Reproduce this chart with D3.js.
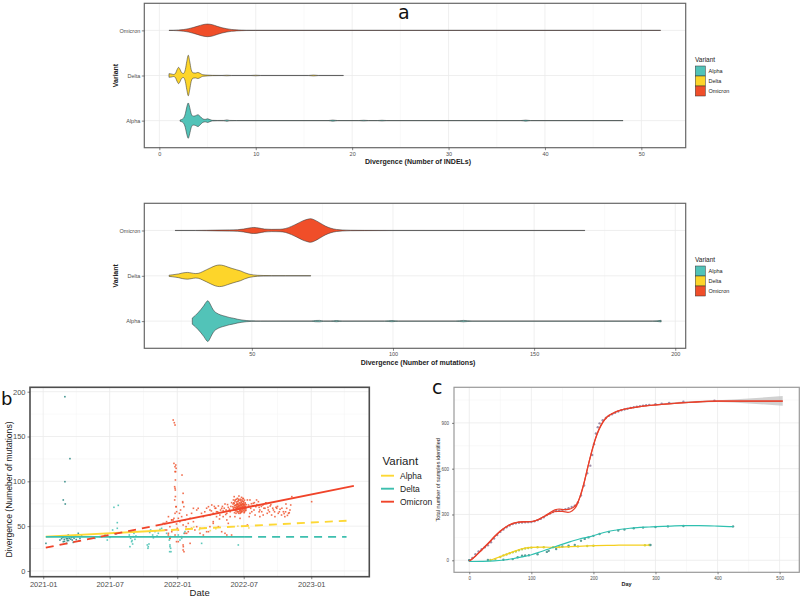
<!DOCTYPE html>
<html><head><meta charset="utf-8">
<script src="https://cdn.jsdelivr.net/npm/d3@7"></script>
<style>body{margin:0;background:#fff}svg{display:block}</style>
</head><body>
<svg id="chart" width="800" height="602"></svg>
<script>
// ---------------- DATA ----------------
const variants = ["Alpha", "Delta", "Omicron"];
const violinOrder = ["Omicron", "Delta", "Alpha"];

// Violin density profiles [value, relative half-width] (panel a, INDELs)
const indelAlpha = [[2.15,0.03],[2.5,0.12],[2.7,0.35],[2.85,0.68],[3,0.87],[3.15,0.65],[3.3,0.35],[3.5,0.22],[3.75,0.24],[4,0.29],[4.25,0.2],[4.5,0.09],[4.75,0.06],[5,0.09],[5.25,0.05],[5.5,0.015],[6,0.008],[6.7,0.01],[7,0.035],[7.3,0.01],[8,0.004],[17.5,0.004],[18,0.028],[18.5,0.004],[20.7,0.004],[21.2,0.018],[21.7,0.004],[22.6,0.004],[23.1,0.018],[23.6,0.004],[37.5,0.004],[38,0.025],[38.5,0.004],[48.1,0.004]];
const indelDelta = [[1.0,0.09],[1.2,0.08],[1.5,0.05],[1.7,0.13],[1.85,0.3],[2,0.4],[2.15,0.3],[2.3,0.15],[2.5,0.1],[2.7,0.3],[2.85,0.7],[3,1.0],[3.15,0.7],[3.3,0.3],[3.5,0.13],[3.75,0.12],[4,0.15],[4.25,0.1],[4.5,0.04],[5,0.02],[5.5,0.008],[6.5,0.004],[7,0.015],[7.5,0.004],[9.5,0.004],[10,0.015],[10.5,0.004],[15.5,0.004],[16,0.022],[16.5,0.004],[19.1,0.004]];
const indelOmicron = [[1,0.004],[1.5,0.008],[2,0.02],[2.5,0.04],[3,0.08],[3.5,0.14],[4,0.21],[4.5,0.28],[5,0.31],[5.5,0.28],[6,0.2],[6.5,0.13],[7,0.08],[7.5,0.045],[8,0.025],[8.5,0.014],[9,0.008],[10,0.005],[52,0.004]];

// Violin density profiles (panel a, mutations)
const mutAlpha = [[28.9,0.15],[30,0.28],[31,0.42],[32,0.58],[33,0.76],[33.8,0.93],[34.4,1.0],[35,0.9],[35.8,0.68],[36.6,0.5],[37.6,0.39],[39,0.3],[40.5,0.24],[42,0.18],[43.5,0.14],[45,0.09],[46.5,0.055],[48,0.03],[50,0.012],[53,0.006],[60,0.004],[71,0.004],[72.5,0.03],[74,0.035],[75.5,0.01],[78,0.01],[80,0.03],[82,0.005],[97,0.004],[99.6,0.03],[102,0.004],[122,0.004],[125,0.035],[128,0.004],[192,0.004],[195,0.04]];
const mutDelta = [[20.7,0.03],[22,0.05],[24,0.09],[25.5,0.14],[27.2,0.165],[28.5,0.14],[30,0.11],[31,0.12],[32.5,0.2],[34,0.3],[35.5,0.4],[37,0.49],[38.5,0.53],[40,0.5],[41.5,0.43],[43,0.36],[44.5,0.3],[46,0.24],[47.5,0.15],[49,0.08],[50.5,0.045],[52,0.025],[54,0.015],[57,0.008],[62,0.005],[70.9,0.004]];
const mutOmicron = [[22.8,0.004],[30,0.005],[34,0.01],[38,0.02],[42,0.03],[45,0.04],[47,0.07],[49,0.12],[50.7,0.15],[52.5,0.12],[54.5,0.07],[57,0.055],[60,0.06],[62,0.1],[64,0.2],[66,0.33],[68,0.47],[70,0.56],[70.7,0.58],[72,0.53],[74,0.38],[76,0.22],[78,0.11],[80,0.05],[82,0.025],[85,0.012],[90,0.007],[100,0.005],[168,0.004]];

const indelTicks = [0,10,20,30,40,50];
const indelMinor = [5,15,25,35,45];
const mutTicks = [50,100,150,200];
const mutMinor = [25,75,125,175];

// Panel b: points [days since 2021-01-01, divergence]
const alphaPts = [[52.8,37.5],[57.3,35.3],[61.9,38.3],[65.5,33.8],[70.9,36.4],[74.6,39.0],[79.1,34.5],[68.2,40.1],[54.6,32.7],[77.3,37.5],[95.5,42.0],[100,36.4],[104.5,40.1],[98.2,33.8],[7.4,30.8],[72.8,125.3],[59.1,99.6],[54.6,79.2],[60,74.7],[59,194.4],[63.7,30.8],[81.8,31.9],[45.5,34.5],[66,36],[72,38.5],[84,36.5],[88,39],[50,36],[56,38],[63,36],[69,34],[75,35.5],[82,38],[90,35],[58,33],[67,39]];
const deltaPts = [[140.9,36.4],[154.5,38.3],[168.1,40.1],[174.5,34.5],[181.7,37.5],[189,45.7],[192.6,42.7],[198.1,41.2],[201.7,47.6],[192.6,71.0],[204.4,73.2],[201.7,53.9],[234.4,40.1],[238,36.4],[240.7,32.7],[245.3,38.3],[247.1,42.0],[249.8,35.3],[236.2,27.1],[252.5,39.0],[243.5,30.1],[283.4,29.0],[286.1,27.1],[288,30.1],[285.2,25.3],[292.5,45.7],[298,40.1],[304.3,43.9],[313.4,42.0],[317.9,46.4],[343.3,34.5],[345.2,29.0],[347,25.3],[344.3,21.5],[346.1,38.3],[367.9,40.1],[377,36.4],[383.3,42.0],[322.4,47.6],[336,42],[345.1,27.1],[347.9,21.5],[372.4,34.5],[386,43.9],[431.4,30.8],[531.3,29],[239,44],[242,34],[300,37],[310,39],[290,43]];
const omicronPts = [[354,168.4],[359,162.8],[357,165.4],[361,118.2],[362,114.5],[359,110.8],[378,107.0],[360,101.5],[359,92.2],[381,86.6],[362,71.7],[380,76.2],[359,64.3],[356,58.7],[358,79.2],[360,83],
[327,53.1],[336,55.0],[345,49.4],[354,56.9],[363,52.4],[368,58.7],[372,55.0],[377,60.6],[381,51.3],[386,56.9],[391,62.4],[395,53.1],[400,58.7],[404,64.3],[409,55.0],[332,45.7],[341,42.0],[350,43.8],[359,40.1],[368,45.7],[377,38.3],[386,42.0],[395,43.8],[404,47.6],[345,36.4],[363,32.7],[381,29.0],[400,30.8],[381,23.4],[413,45.7],[418,49.4],[422,69.9],[427,42.0],[436,40.1],[445,43.8],[454,49.4],[350,56.9],[341,60.6],[371,64.3],[374,68.0],[383,71.7],[365,47.6],[389,49.4],
[450,71.7],[454,68.0],[459,73.6],[463,64.3],[468,69.9],[472,66.1],[477,72.5],[481,62.4],[486,69.9],[490,67.3],[495,74.7],[500,64.3],[504,71.0],[509,66.1],[513,76.2],[454,62.4],[472,60.6],[490,60.6],[509,60.6],[463,55.0],[500,56.9],[486,43.8],[500,40.1],[513,40.1],[427,47.6],[450,43.8],[477,49.4],[495,42.0],[504,53.1],[463,53.1],[436,60.6],[418,68.0],[431,64.3],[409,69.9],
[440,66],[445,70],[458,67],[466,72],[470,70],[475,66],[483,68],[488,72],[493,70],[498,68],[502,74],[507,69],[511,72],[497,63],[480,58],
[516,71.7],[520,75.4],[522,68.0],[525,73.6],[527,69.9],[529,77.3],[530,66.1],[532,72.5],[534,68.8],[536,75.4],[538,71.0],[539,67.3],[541,73.6],[543,69.9],[545,77.3],[547,71.7],[549,68.0],[550,74.7],[552,69.9],[523,79.2],[532,79.9],[541,79.2],[521,65.0],[536,64.3],[547,65.0],[527,74.7],[539,76.2],[534,72.5],[543,74.7],[529,68.8],[538,68.8],[520,71.0],[550,71.0],[525,64.3],[530,71.0],[545,68.0],[523,73.2],[536,69.9],[541,66.1],[532,64.3],[518,79.2],[529,81.0],[540,82.1],[522,60.6],[536,58.7],[524,71.0],[529,74.0],[535,67.3],[539,72.5],[544,71.7],[548,69.5],[531,68.8],[526,76.9],[537,78.4],[542,68.8],[546,74.0],[549,72.5],[551,67.3],[519,68.8],[517,74.7],[520,82.9],[533,83.6],[545,80.6],
[518,70],[519,76],[521,73],[522,78],[524,67],[525,70],[526,80],[527,72],[528,66],[529,71],[530,75],[531,78],[532,70],[533,66],[533,74],[534,76],[535,71],[536,73],[537,67],[537,80],[538,74],[539,70],[540,77],[540,66],[541,71],[542,75],[543,72],[543,78],[544,67],[545,73],[546,70],[546,77],[547,74],[548,66],[548,79],[549,70],[550,76],[551,72],[552,68],[553,74],[528,74],[531,72],[535,69],[539,74],[542,70],[545,75],[527,68],[533,79],[538,65],[544,81],
[559,73.6],[565,69.9],[572,75.4],[579,71.7],[586,77.3],[590,68.0],[598,73.6],[604,69.9],[610,64.3],[618,72.5],[622,62.4],[627,68.0],[634,71.0],[640,64.3],[645,68.8],[649,62.4],[654,66.1],[658,60.6],[663,69.9],[668,64.3],[672,68.0],[677,82.9],[563,64.3],[577,62.4],[590,60.6],[599,62.4],[563,79.2],[581,79.2],[608,75.4],[631,60.6],[636,69.9],[661,74.7],[674,73.6],[556,51.3],[568,66.1],[561,60.6],[731,77.3],[556,79.2],[570,72.5],[588,71.0],[595,66.1],[613,68.0],[575,76.2],
[562,72],[567,75],[574,68],[582,74],[588,66],[594,72],[601,70],[606,76],[612,71],[616,66],[620,74],[625,70],[630,66],[638,72],[643,66],[650,70],[656,64],[660,66],[665,62],[670,65],
[331.5,53.1],[336,45.7],[340.6,40.1],[345.2,36.4],[349.7,56.9],[363.3,66.1],[361.5,71.7],[357.9,94.0],[359.7,90.3],[356,120],[358.8,116.3],[360.6,110.8],[379.7,77.3],[381.5,27.1],[383.3,21.5],[390.6,42.0],[367.9,32.7]];
const alphaPtsLate = [[395,47],[410,49],[425,46],[440,48],[455,45],[470,47],[530,50],[560,48]];

// Panel b: fitted trend lines [day, divergence] (solid = data range, dashed = extrapolated)
const alphaSolid = [[7,38.3],[310,44.9]];
const alphaDashed = [[310,44.9],[826,56.1]];
const deltaSolid = [[7,38.0],[547,38.0]];
const deltaDashed = [[547,38.0],[826,38.0]];
const omicronDashed = [[7,26.0],[327,52.3]];
const omicronSolid = [[327,52.3],[846,94.9]];
const dateTicks = ["2021-01-01","2021-07-01","2022-01-01","2022-07-01","2023-01-01"];
const dateMinor = ["2021-04-01","2021-10-01","2022-04-01","2022-10-01","2023-04-01"];
const divTicks = [0,50,100,150,200];
const divMinor = [25,75,125,175];

// Panel c: cumulative counts [day, samples]
const omicronCum = [[0,0],[5,15],[10,40],[15,58],[20,72],[25,85],[30,98],[35,118],[40,142],[45,166],[50,186],[55,202],[60,216],[65,228],[70,237],[75,242],[80,246],[85,248],[90,249],[95,250],[100,251],[105,256],[110,263],[115,271],[120,282],[125,296],[130,307],[135,316],[140,323],[145,326],[150,329],[155,334],[160,341],[165,349],[170,358],[175,378],[180,425],[185,490],[190,570],[195,620],[198,690],[201,760],[204,830],[207,872],[210,897],[215,917],[220,932],[225,946],[230,956],[235,966],[240,975],[245,982],[250,988],[255,993],[260,998],[265,1002],[270,1006],[275,1010],[280,1013],[285,1016],[290,1018],[300,1022],[310,1026],[322,1031],[345,1038],[395,1045]];
const omicronFitA = [[0,-5],[10,27],[20,66],[30,106],[40,150],[50,190],[60,220],[70,240],[80,250],[90,253],[100,254],[110,265],[120,287],[130,312],[138,330],[145,336],[152,332],[160,334],[167,345],[173,368],[179,420],[185,505],[191,610],[197,710],[203,795],[209,860],[215,905],[222,940],[232,965],[245,985],[260,998],[280,1010],[300,1018],[330,1028],[360,1036],[400,1042],[450,1043],[505,1043]];
const omicronFitB = [[0,-8],[10,29],[20,70],[30,110],[40,154],[50,192],[60,222],[70,242],[80,250],[90,252],[100,253],[110,264],[120,285],[130,306],[140,320],[150,320],[159,314],[166,325],[173,358],[179,425],[185,510],[191,612],[197,705],[203,790],[209,855],[215,902],[222,938],[232,963],[245,984],[260,997],[280,1009],[300,1017],[330,1027],[360,1035],[400,1042],[450,1043],[505,1043]];
const omicronBand = [[300,1013,1022],[350,1029,1041],[400,1037,1048],[450,1027,1060],[505,1012,1076]];
const alphaCum = [[34,2],[42,8],[50,22],[55,32],[60,38],[65,46],[70,52],[75,58],[80,66],[85,72],[90,77],[95,81],[100,83],[110,85],[120,85],[135,85],[145,87],[160,89],[175,91],[190,94],[200,95],[283,99],[290,100]];
const alphaFit = [[34,0],[50,24],[67,50],[83,74],[99,85],[120,86],[137,85],[163,89],[190,94],[233,98],[260,100],[290,100]];
const deltaCum = [[0,0],[30,2],[55,4],[70,8],[78,20],[85,30],[90,32],[96,33],[110,40],[125,55],[128,62],[140,74],[150,90],[160,95],[170,100],[180,128],[186,140],[192,150],[200,160],[210,172],[225,185],[240,195],[250,201],[265,210],[280,214],[292,100],[300,218],[320,222],[345,225],[425,222]];
const deltaFit = [[0,-8],[20,-7],[40,-4],[56,2],[70,10],[85,22],[99,35],[115,56],[131,79],[147,101],[163,122],[180,143],[195,155],[210,174],[222,187],[235,197],[248,205],[262,211],[275,216],[290,218],[302,220],[325,224],[345,227],[370,227],[400,224],[425,220]];
const dayTicks = [0,100,200,300,400,500];
const dayMinor = [50,150,250,350,450];
const countTicks = [0,300,600,900];
const countMinor = [150,450,750,1050];

// ---------------- STYLE ----------------
const FONT = '"Liberation Sans", Arial, Helvetica, sans-serif';
const violinFill = {Alpha:"#52C3B8", Delta:"#FDD52A", Omicron:"#F04E29"};
const lineCol = {Alpha:"#FDD835", Delta:"#3DBFAE", Omicron:"#F0442A"};
const svg = d3.select("#chart");
svg.append("rect").attr("width",800).attr("height",602).attr("fill","#fff");

function panel(cfg){
  const g = svg.append("g");
  const {L,T,R,B,x,y} = cfg;
  g.append("rect").attr("x",L).attr("y",T).attr("width",R-L).attr("height",B-T).attr("fill","#fff");
  const vline = (v,c,w)=>g.append("line").attr("x1",x(v)).attr("x2",x(v)).attr("y1",T).attr("y2",B).attr("stroke",c).attr("stroke-width",w);
  const hline = (v,c,w)=>g.append("line").attr("y1",y(v)).attr("y2",y(v)).attr("x1",L).attr("x2",R).attr("stroke",c).attr("stroke-width",w);
  (cfg.xMinor||[]).forEach(v=>vline(v,"#f3f3f3",0.5));
  (cfg.yMinor||[]).forEach(v=>hline(v,"#f3f3f3",0.5));
  cfg.xMajor.forEach(v=>vline(v,"#ebebeb",0.8));
  cfg.yMajor.forEach(v=>hline(v,"#ebebeb",0.8));
  return g;
}
function finishPanel(cfg){
  const {L,T,R,B,x,y} = cfg;
  const g = svg.append("g");
  g.append("rect").attr("x",L).attr("y",T).attr("width",R-L).attr("height",B-T)
    .attr("fill","none").attr("stroke",cfg.border).attr("stroke-width",cfg.borderW);
  const ax = g.append("g").attr("transform",`translate(0,${B})`)
    .call(d3.axisBottom(x).tickValues(cfg.xMajor).tickSize(cfg.tickLen).tickPadding(cfg.tickPad).tickFormat(cfg.xFmt||(d=>d)));
  const ay = g.append("g").attr("transform",`translate(${L},0)`)
    .call(d3.axisLeft(y).tickValues(cfg.yMajor).tickSize(cfg.tickLen).tickPadding(cfg.tickPad).tickFormat(cfg.yFmt||(d=>d)));
  [ax,ay].forEach(a=>{
    a.select(".domain").remove();
    a.selectAll("line").attr("stroke","#333").attr("stroke-width",0.6);
    a.selectAll("text").attr("fill","#4d4d4d").style("font-family",FONT).style("font-size",cfg.tickFont+"px");
  });
  return g;
}

// ---------------- PANEL A ----------------
function violinPanel(T,B,xDomain,profiles,xMaj,xMin,title,legendY){
  const L=144.3,R=685.7;
  const x = d3.scaleLinear().domain(xDomain).range([L,R]);
  const y = d3.scalePoint().domain(violinOrder).range([T,B]).padding(0.6);
  const cfg = {L,T,R,B,x,y,xMajor:xMaj,xMinor:xMin,yMajor:violinOrder,border:"#666",borderW:1.2,tickLen:2.5,tickPad:1.5,tickFont:5.5};
  panel(cfg);
  const half = y.step()*0.45;
  violinOrder.forEach(v=>{
    const cy = y(v);
    const area = d3.area().curve(d3.curveMonotoneX)
      .x(d=>x(d[0])).y0(d=>cy-d[1]*half).y1(d=>cy+d[1]*half);
    svg.append("path").datum(profiles[v]).attr("d",area)
      .attr("fill",violinFill[v]).attr("stroke","#333").attr("stroke-width",0.55);
  });
  finishPanel(cfg);
  svg.append("text").attr("x",(L+R)/2+3).attr("y",B+16.5).attr("text-anchor","middle")
    .style("font-family",FONT).style("font-size","7px").style("font-weight","bold").attr("fill","#222").text(title);
  svg.append("text").attr("transform",`translate(117.5,${(T+B)/2}) rotate(-90)`).attr("text-anchor","middle")
    .style("font-family",FONT).style("font-size","7px").style("font-weight","bold").attr("fill","#222").text("Variant");
  const lg = svg.append("g");
  lg.append("text").attr("x",695).attr("y",legendY).style("font-family",FONT).style("font-size","6.5px").attr("fill","#222").text("Variant");
  variants.forEach((v,i)=>{
    const ky = legendY+4.5+i*10;
    lg.append("rect").attr("x",695.3).attr("y",ky).attr("width",10).attr("height",10)
      .attr("fill",violinFill[v]).attr("stroke","#333").attr("stroke-width",0.5);
    lg.append("text").attr("x",708.5).attr("y",ky+7).style("font-family",FONT).style("font-size","5.5px").attr("fill","#222").text(v);
  });
}
violinPanel(3.3,147.7,[-1.56,54.6],{Alpha:indelAlpha,Delta:indelDelta,Omicron:indelOmicron},indelTicks,indelMinor,"Divergence (Number of INDELs)",61.5);
violinPanel(203.3,348.3,[11.9,203.7],{Alpha:mutAlpha,Delta:mutDelta,Omicron:mutOmicron},mutTicks,mutMinor,"Divergence (Number of mutations)",261.5);

// ---------------- PANEL B ----------------
(function(){
  const L=30,T=387.3,R=369.3,B=576.7;
  const base = Date.UTC(2021,0,1);
  const day = d=>new Date(base + d*86400000);
  const x = d3.scaleUtc().domain([new Date(Date.UTC(2020,10,26)), new Date(Date.UTC(2023,5,8))]).range([L,R]);
  const y = d3.scaleLinear().domain([-6.4,204.9]).range([B,T]);
  const pd = s=>new Date(s+"T00:00:00Z");
  const cfg = {L,T,R,B,x,y,xMajor:dateTicks.map(pd),xMinor:dateMinor.map(pd),yMajor:divTicks,yMinor:divMinor,
    border:"#4d4d4d",borderW:1.6,tickLen:2.5,tickPad:2,tickFont:7.5,xFmt:d3.utcFormat("%Y-%m")};
  panel(cfg);
  const pts = (arr,col,op)=>svg.append("g").selectAll("rect").data(arr).join("rect")
    .attr("x",d=>x(day(d[0]))-0.8).attr("y",d=>y(d[1])-0.8).attr("width",1.6).attr("height",1.6).attr("fill",col).attr("opacity",op);
  pts(alphaPts,"#2f8a84",0.9);
  pts(deltaPts,"#4cc2b4",0.9);
  pts(alphaPtsLate,"#f2cf3a",0.7);
  pts(omicronPts,"#f0552f",0.85);
  const ln = d3.line().x(d=>x(day(d[0]))).y(d=>y(d[1]));
  const draw = (arr,col,dash)=>svg.append("path").datum(arr).attr("d",ln).attr("fill","none")
    .attr("stroke",col).attr("stroke-width",1.9).attr("stroke-dasharray",dash?"8,6":null);
  draw(alphaSolid,lineCol.Alpha,false); draw(alphaDashed,lineCol.Alpha,true);
  draw(deltaSolid,lineCol.Delta,false); draw(deltaDashed,lineCol.Delta,true);
  draw(omicronDashed,lineCol.Omicron,true); draw(omicronSolid,lineCol.Omicron,false);
  finishPanel(cfg);
  svg.append("text").attr("x",(L+R)/2).attr("y",595.5).attr("text-anchor","middle")
    .style("font-family",FONT).style("font-size","9.5px").attr("fill","#222").text("Date");
  svg.append("text").attr("transform",`translate(11.5,489.5) rotate(-90)`).attr("text-anchor","middle")
    .style("font-family",FONT).style("font-size","8.6px").attr("fill","#222").text("Divergence (Numeber of mutations)");
  const lg = svg.append("g");
  lg.append("text").attr("x",382.5).attr("y",465).style("font-family",FONT).style("font-size","11.5px").attr("fill","#222").text("Variant");
  variants.forEach((v,i)=>{
    const ky = 475.7+i*13;
    lg.append("line").attr("x1",381).attr("x2",394).attr("y1",ky).attr("y2",ky).attr("stroke",lineCol[v]).attr("stroke-width",1.9);
    lg.append("text").attr("x",400).attr("y",ky+3).style("font-family",FONT).style("font-size","8.5px").attr("fill","#222").text(v);
  });
})();

// ---------------- PANEL C ----------------
(function(){
  const L=454,T=387.3,R=799.3,B=572.3;
  const x = d3.scaleLinear().domain([-24.6,531.7]).range([L,R]);
  const y = d3.scaleLinear().domain([-78.6,1133]).range([B,T]);
  const cfg = {L,T,R,B,x,y,xMajor:dayTicks,xMinor:dayMinor,yMajor:countTicks,yMinor:countMinor,
    border:"#9a9a9a",borderW:1.2,tickLen:2,tickPad:3,tickFont:4.5};
  panel(cfg);
  const band = d3.area().x(d=>x(d[0])).y0(d=>y(d[1])).y1(d=>y(d[2])).curve(d3.curveMonotoneX);
  svg.append("path").datum(omicronBand).attr("d",band).attr("fill","#bdbdbd").attr("opacity",0.7);
  const dot = (arr,col)=>svg.append("g").selectAll("circle").data(arr).join("circle")
    .attr("cx",d=>x(d[0])).attr("cy",d=>y(d[1])).attr("r",1.2).attr("fill",col).attr("opacity",0.85);
  dot(omicronCum,"#8c7b9c");
  dot(alphaCum,"#a9c93c");
  dot(deltaCum,"#3f8f88");
  const ln = d3.line().x(d=>x(d[0])).y(d=>y(d[1])).curve(d3.curveMonotoneX);
  const draw=(arr,col,w)=>svg.append("path").datum(arr).attr("d",ln).attr("fill","none").attr("stroke",col).attr("stroke-width",w);
  draw(omicronFitB,"#E8412C",1.2);
  draw(omicronFitA,"#E8412C",1.2);
  draw(alphaFit,"#F5CF1E",1.2);
  draw(deltaFit,"#2FC0B0",1.2);
  finishPanel(cfg);
  svg.append("text").attr("x",(L+R)/2).attr("y",586).attr("text-anchor","middle")
    .style("font-family",FONT).style("font-size","5.5px").style("font-weight","bold").attr("fill","#222").text("Day");
  svg.append("text").attr("transform",`translate(439.5,${(T+B)/2}) rotate(-90)`).attr("text-anchor","middle")
    .style("font-family",FONT).style("font-size","5.5px").attr("fill","#222").text("Total number of samples identified");
})();

// panel letters
const letter = (t,xx,yy,fs)=>svg.append("text").attr("x",xx).attr("y",yy).style("font-family",'"DejaVu Sans",sans-serif').style("font-size",fs+"px").attr("fill","#111").text(t);
letter("a",398,19,19);
letter("b",1,405,18);
letter("c",432,394,19);
</script>
</body></html>
